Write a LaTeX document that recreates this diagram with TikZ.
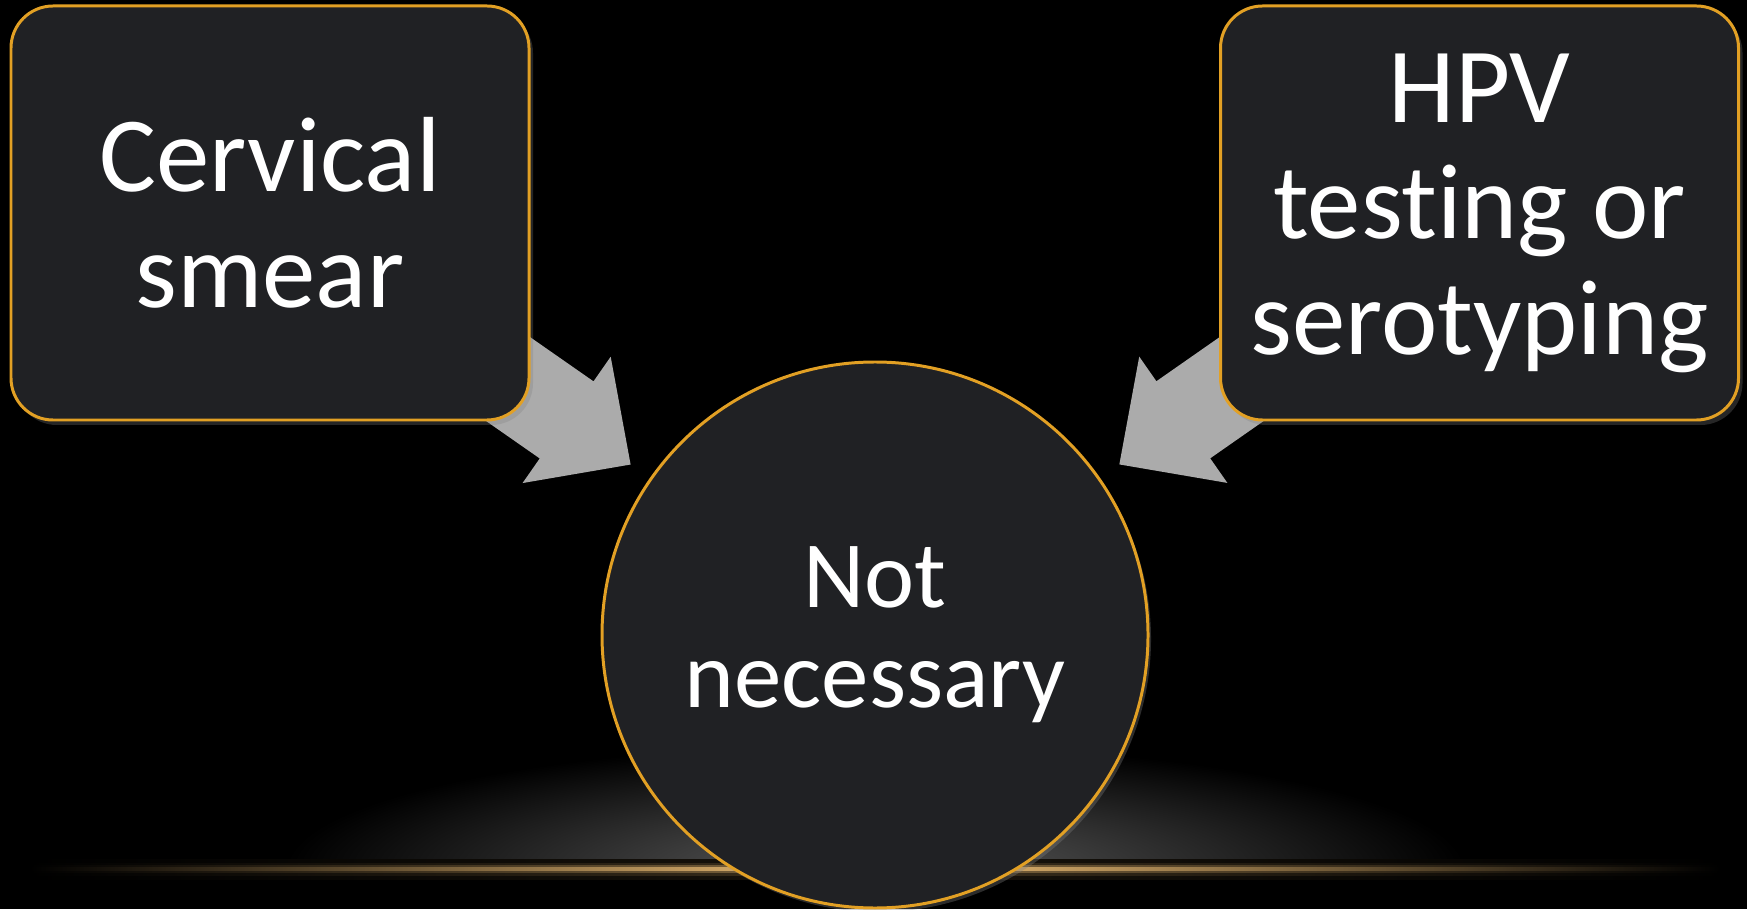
\documentclass[tikz,border=0pt]{standalone}
\usepackage{fontspec}
\setmainfont{Carlito}[Ligatures=NoCommon]
\usetikzlibrary{calc,shadows,backgrounds}

\definecolor{boxfill}{RGB}{32,33,36}
\definecolor{boxline}{RGB}{226,160,36}
\definecolor{arrowgray}{RGB}{171,171,171}
\definecolor{glowline}{RGB}{246,196,120}

\begin{document}
\begin{tikzpicture}[
	box/.style={draw=boxline, line width=0.85pt, fill=boxfill, rounded corners=0.42cm,
		minimum width=5.18cm, minimum height=4.14cm, inner sep=0pt, text=white, align=center,
		font=\fontsize{30.4}{33}\selectfont,
		drop shadow={shadow xshift=0.04cm, shadow yshift=-0.05cm, opacity=0.3}},
	disc/.style={circle, draw=boxline, line width=0.85pt, fill=boxfill, minimum size=5.46cm,
		inner sep=0pt, text=white, align=center, font=\fontsize{27}{28.5}\selectfont,
		drop shadow={shadow xshift=0.03cm, shadow yshift=-0.04cm, opacity=0.35}}]

\useasboundingbox (0,0) rectangle (17.47,9.09);

% Fondo y brillo inferior
\begin{scope}[on background layer]
	\fill[black] (0,0) rectangle (17.47,9.09);
	\begin{scope}
		\clip (0,0.40) rectangle (17.47,2.2);
		\shade[inner color=white!36!black, outer color=black] (8.75,0.40) ellipse (5.9cm and 1.25cm);
	\end{scope}
	\foreach \h/\c in {0.10/10, 0.06/25, 0.032/55, 0.014/100} {
		\shade[left color=black, right color=glowline!\c!black] (0.3,0.40-\h) rectangle (8.75,0.40+\h);
		\shade[left color=glowline!\c!black, right color=black] (8.75,0.40-\h) rectangle (17.2,0.40+\h);
	}
\end{scope}

% Nodos
\node[box] (smear) at (2.70,6.96) {Cervical\\smear};
\node[box] (hpv) at (14.795,6.96) {HPV\\testing or\\serotyping};
\node[disc] (notnec) at (8.75,2.74) {Not\\necessary};

% Flechas
\begin{scope}[on background layer]
	\foreach \src in {smear, hpv} {
		\coordinate (tip) at ($(notnec.center)!2.98cm!(\src.center)$);
		\coordinate (base) at ($(tip)!0.78cm!(\src.center)$);
		\coordinate (tail) at ($(tip)!3.2cm!(\src.center)$);
		\fill[arrowgray] ($(tail)!0.47cm!90:(tip)$) -- ($(base)!0.47cm!90:(tip)$)
			-- ($(base)!0.77cm!90:(tip)$) -- (tip) -- ($(base)!0.77cm!-90:(tip)$)
			-- ($(base)!0.47cm!-90:(tip)$) -- ($(tail)!0.47cm!-90:(tip)$) -- cycle;
	}
\end{scope}
\end{tikzpicture}
\end{document}
